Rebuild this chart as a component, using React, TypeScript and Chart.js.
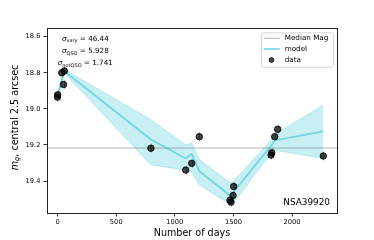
import React, { useEffect, useRef } from "react";
import { Chart, registerables } from "chart.js";

Chart.register(...registerables);

// ---- data ----
const dataDays = [-2, 0, 35, 50, 57, 796, 1093, 1144, 1209, 1471, 1479, 1497, 1502, 1821, 1827, 1852, 1878, 2267];
const dataMag = [18.935, 18.922, 18.8, 18.865, 18.79, 19.218, 19.339, 19.302, 19.154, 19.506, 19.517, 19.48, 19.43, 19.256, 19.243, 19.154, 19.113, 19.261];
const dataErr = [0.025, 0.025, 0.025, 0.025, 0.025, 0.025, 0.025, 0.025, 0.025, 0.025, 0.025, 0.025, 0.025, 0.025, 0.025, 0.025, 0.025, 0.025];

const modelDays = [0, 55, 796, 1093, 1144, 1209, 1471, 1502, 1827, 1852, 2267];
const modelMag = [18.93, 18.79, 19.17, 19.275, 19.25, 19.345, 19.48, 19.46, 19.2, 19.175, 19.125];
const bandUpper = [18.92, 18.78, 19.06, 19.2, 19.19, 19.28, 19.41, 19.4, 19.17, 19.14, 18.98];
const bandLower = [18.94, 18.8, 19.31, 19.34, 19.35, 19.42, 19.53, 19.52, 19.24, 19.23, 19.275];

const medianMag = 19.217;

const xTicks = [0, 500, 1000, 1500, 2000];
const yTicks = [18.6, 18.8, 19.0, 19.2, 19.4];
const xMin = -91;
const xMax = 2384;
const yMin = 18.552;
const yMax = 19.577;

const sigmaLabels = [
  { sub: "vary", value: "46.44" },
  { sub: "QSO", value: "5.928" },
  { sub: "notQSO", value: "1.741" },
];
const objectName = "NSA39920";
const legendLabels = ["Median Mag", "model", "data"];
const xTitle = "Number of days";

const FONT = "'DejaVu Sans', sans-serif";
const LINE_COLOR = "rgba(23,190,207,0.5)";
const BAND_COLOR = "rgba(23,190,207,0.24)";
const MEDIAN_COLOR = "rgba(128,128,128,0.6)";

function drawParts(ctx: CanvasRenderingContext2D, parts: { t: string; sub?: boolean; it?: boolean }[], cx: number, cy: number, size: number, align: "center" | "left" | "right") {
  const fontFor = (p: any) => `${p.it ? "italic " : ""}${p.sub ? size * 0.7 : size}px ${FONT}`;
  let total = 0;
  const widths = parts.map((p) => {
    ctx.font = fontFor(p);
    const w = ctx.measureText(p.t).width;
    total += w;
    return w;
  });
  let x = align === "center" ? cx - total / 2 : align === "right" ? cx - total : cx;
  ctx.textBaseline = "middle";
  ctx.textAlign = "left";
  parts.forEach((p, i) => {
    ctx.font = fontFor(p);
    ctx.fillText(p.t, x, p.sub ? cy + size * 0.28 : cy);
    x += widths[i];
  });
}

const overlayPlugin = {
  id: "overlay",
  afterDatasetsDraw(chart: any) {
    const ctx = chart.ctx as CanvasRenderingContext2D;
    const { left, right, top, bottom } = chart.chartArea;
    const xs = chart.scales.x;
    const ys = chart.scales.y;
    ctx.save();
    // error bars
    ctx.strokeStyle = "rgba(128,128,128,0.8)";
    ctx.lineWidth = 1;
    // (drawn under points would be nicer; minor)
    ctx.restore();

    ctx.save();
    // frame
    ctx.strokeStyle = "#222";
    ctx.lineWidth = 1;
    ctx.strokeRect(Math.round(left) + 0.5, Math.round(top) + 0.5, Math.round(right - left), Math.round(bottom - top));

    // sigma annotations
    ctx.fillStyle = "#000";
    const sx = left + (85.3 - 47);
    sigmaLabels.forEach((s, i) => {
      drawParts(
        ctx,
        [
          { t: "σ", it: true },
          { t: s.sub, sub: true },
          { t: " = " + s.value },
        ],
        sx,
        top + 11 + i * 12.2,
        7.2,
        "center"
      );
    });

    // object name
    ctx.font = `8.9px ${FONT}`;
    ctx.textAlign = "right";
    ctx.textBaseline = "middle";
    ctx.fillText(objectName, right - 7, bottom - 10);

    // legend
    const lx = right - 76, ly = top + 4.3, lw = 72, lh = 34.4;
    ctx.beginPath();
    (ctx as any).roundRect(lx + 0.5, ly + 0.5, lw, lh, 2);
    ctx.fillStyle = "rgba(255,255,255,0.8)";
    ctx.fill();
    ctx.strokeStyle = "#d5d5d5";
    ctx.lineWidth = 1;
    ctx.stroke();
    const rowY = [ly + 6, ly + 16.7, ly + 27.7];
    // median
    ctx.strokeStyle = MEDIAN_COLOR;
    ctx.lineWidth = 1;
    ctx.beginPath();
    ctx.moveTo(lx + 2.7, rowY[0]);
    ctx.lineTo(lx + 18.7, rowY[0]);
    ctx.stroke();
    // model
    ctx.strokeStyle = LINE_COLOR;
    ctx.lineWidth = 2;
    ctx.beginPath();
    ctx.moveTo(lx + 2.7, rowY[1]);
    ctx.lineTo(lx + 18.7, rowY[1]);
    ctx.stroke();
    // data
    ctx.fillStyle = "rgba(0,0,0,0.72)";
    ctx.strokeStyle = "#000";
    ctx.lineWidth = 0.8;
    ctx.beginPath();
    ctx.arc(lx + 10.5, rowY[2], 2.4, 0, Math.PI * 2);
    ctx.fill();
    ctx.stroke();
    ctx.fillStyle = "#000";
    ctx.font = `7.2px ${FONT}`;
    ctx.textAlign = "left";
    ctx.textBaseline = "middle";
    legendLabels.forEach((t, i) => ctx.fillText(t, lx + 23.7, rowY[i]));

    // axis titles
    ctx.font = `9.6px ${FONT}`;
    ctx.textAlign = "center";
    ctx.textBaseline = "middle";
    ctx.fillText(xTitle, (left + right) / 2, 233);

    ctx.save();
    ctx.translate(15, (top + bottom) / 2 - 3);
    ctx.rotate(-Math.PI / 2);
    drawParts(
      ctx,
      [
        { t: "m", it: true },
        { t: "g", it: true, sub: true },
        { t: ", central 2.5 arcsec" },
      ],
      0,
      0,
      9.6,
      "center"
    );
    ctx.restore();
    ctx.restore();
  },
};

const errorBarPlugin = {
  id: "errbars",
  beforeDatasetsDraw(chart: any) {
    const ctx = chart.ctx as CanvasRenderingContext2D;
    const xs = chart.scales.x;
    const ys = chart.scales.y;
    ctx.save();
    ctx.strokeStyle = "rgba(150,150,150,0.8)";
    ctx.lineWidth = 1;
    dataDays.forEach((d, i) => {
      const px = Math.round(xs.getPixelForValue(d)) + 0.5;
      ctx.beginPath();
      ctx.moveTo(px, ys.getPixelForValue(dataMag[i] - dataErr[i]));
      ctx.lineTo(px, ys.getPixelForValue(dataMag[i] + dataErr[i]));
      ctx.stroke();
    });
    ctx.restore();
  },
};

export default function App() {
  const ref = useRef<HTMLCanvasElement>(null);
  useEffect(() => {
    if (!ref.current) return;
    const chart = new Chart(ref.current, {
      type: "scatter",
      data: {
        datasets: [
          {
            label: "data",
            type: "scatter",
            data: dataDays.map((d, i) => ({ x: d, y: dataMag[i] })),
            backgroundColor: "rgba(0,0,0,0.72)",
            borderColor: "#000",
            borderWidth: 0.9,
            pointRadius: 3.2,
          },
          {
            label: "model",
            type: "line",
            data: modelDays.map((d, i) => ({ x: d, y: modelMag[i] })),
            borderColor: LINE_COLOR,
            borderWidth: 1.8,
            pointRadius: 0,
            fill: false,
          },
          {
            label: "Median Mag",
            type: "line",
            data: [
              { x: xMin, y: medianMag },
              { x: xMax, y: medianMag },
            ],
            borderColor: MEDIAN_COLOR,
            borderWidth: 1,
            pointRadius: 0,
            fill: false,
          },
          {
            label: "upper",
            type: "line",
            data: modelDays.map((d, i) => ({ x: d, y: bandUpper[i] })),
            borderColor: "rgba(23,190,207,0.3)",
            borderWidth: 0.8,
            backgroundColor: BAND_COLOR,
            pointRadius: 0,
            fill: "+1",
          },
          {
            label: "lower",
            type: "line",
            data: modelDays.map((d, i) => ({ x: d, y: bandLower[i] })),
            borderColor: "rgba(23,190,207,0.3)",
            borderWidth: 0.8,
            pointRadius: 0,
            fill: false,
          },
        ],
      } as any,
      options: {
        animation: false,
        responsive: false,
        maintainAspectRatio: false,
        layout: { padding: { left: 0, right: 37, top: 28, bottom: 0 } },
        plugins: { legend: { display: false }, tooltip: { enabled: false } },
        scales: {
          x: {
            type: "linear",
            min: xMin,
            max: xMax,
            afterBuildTicks: (s: any) => {
              s.ticks = xTicks.map((v) => ({ value: v }));
            },
            afterFit: (s: any) => {
              s.height = 27;
            },
            border: { display: false },
            grid: { display: true, drawOnChartArea: false, drawTicks: true, tickLength: 3.5, color: "#000", lineWidth: 0.8 },
            ticks: { color: "#000", font: { family: FONT, size: 6.7 }, padding: 2, maxRotation: 0, callback: (v: any) => String(v) },
          },
          y: {
            type: "linear",
            reverse: true,
            min: yMin,
            max: yMax,
            afterBuildTicks: (s: any) => {
              s.ticks = yTicks.map((v) => ({ value: v }));
            },
            afterFit: (s: any) => {
              s.width = 47;
            },
            border: { display: false },
            grid: { display: true, drawOnChartArea: false, drawTicks: true, tickLength: 3.5, color: "#000", lineWidth: 0.8 },
            ticks: { color: "#000", font: { family: FONT, size: 6.7 }, padding: 3, callback: (v: any) => Number(v).toFixed(1) },
          },
        },
      } as any,
      plugins: [errorBarPlugin, overlayPlugin],
    });
    return () => chart.destroy();
  }, []);
  return (
    <div style={{ position: "fixed", left: 0, top: 0, width: 374, height: 240, background: "#fff" }}>
      <canvas ref={ref} width={374} height={240} style={{ width: 374, height: 240 }} />
    </div>
  );
}
